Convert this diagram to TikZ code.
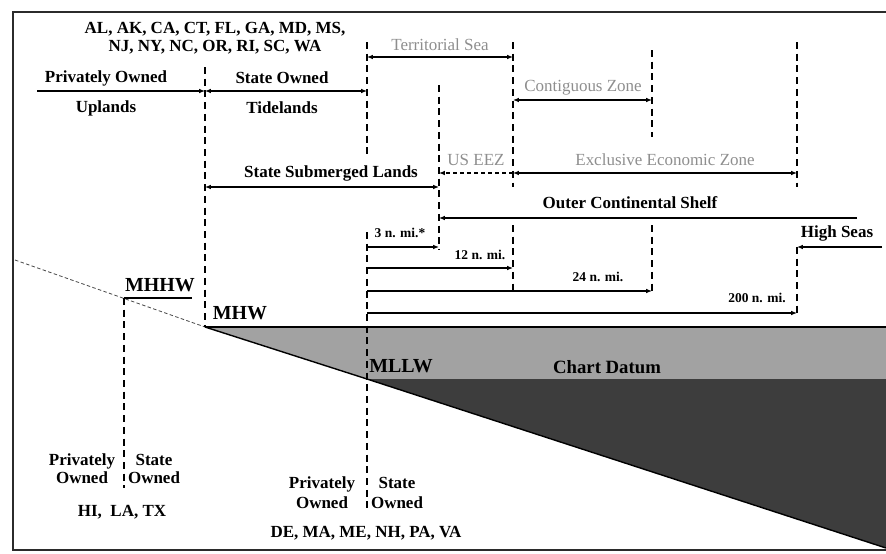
\documentclass[tikz,border=0pt]{standalone}
\usepackage{fontspec}
\setmainfont{Liberation Serif}
\usetikzlibrary{arrows.meta}
\definecolor{Faint}{HTML}{8E8E8E}
\definecolor{Datum}{HTML}{A2A2A2}
\definecolor{Deep}{HTML}{3D3D3D}
\definecolor{Frame}{HTML}{2B2B2B}

\begin{document}
\begin{tikzpicture}[
    x=0.03cm,y=-0.03cm,
    lbl/.style={font=\bfseries\fontsize{14.5}{15.5}\selectfont,inner sep=0pt,align=center},
    faint/.style={font=\fontsize{14.5}{15.5}\selectfont,text=Faint,inner sep=0pt},
    tiny/.style={font=\bfseries\fontsize{11.5}{12}\selectfont,inner sep=0pt},
    tide/.style={font=\bfseries\fontsize{17}{18}\selectfont,inner sep=0pt},
    bound/.style={line width=1.3pt,dash pattern=on 6pt off 4pt},
    dim/.style={{Latex[length=5pt,width=4pt]}-{Latex[length=5pt,width=4pt]},line width=1.3pt},
    reach/.style={-{Latex[length=5pt,width=4pt]},line width=1.3pt}
  ]
  \useasboundingbox (0,0) rectangle (886,554);

  % shore and water levels
  \coordinate (land) at (15,260);
  \coordinate (mhhw) at (124,298);
  \coordinate (mhw) at (205,327);
  \coordinate (mllw) at (367,379);
  \coordinate (datumR) at (886,327);
  \coordinate (mllwR) at (886,379);
  \coordinate (floorR) at (886,548);
  \fill[Datum] (mhw) -- (datumR) -- (mllwR) -- (mllw) -- cycle;
  \fill[Deep] (mllw) -- (mllwR) -- (floorR) -- cycle;
  \draw[black!70,line width=0.7pt,densely dashed] (land) -- (mhw);
  \draw[black,line width=1.2pt] (mhw) -- (mllw) -- (floorR);
  \draw[black,line width=1.2pt] (mhw) -- (datumR);

  % frame
  \draw[Frame,line width=2.5pt] (886,12) -- (13,12) -- (13,550) -- (886,550);

  % boundaries
  \draw[bound] (124,298) -- (124,488);
  \draw[bound] (205,67) -- (mhw);
  \draw[bound] (367,42) -- (367,157);
  \draw[bound] (367,232) -- (367,508);
  \draw[bound] (439,85) -- (439,250);
  \draw[bound] (513,42) -- (513,187);
  \draw[bound] (513,225) -- (513,290);
  \draw[bound] (652,50) -- (652,137);
  \draw[bound] (652,225) -- (652,291);
  \draw[bound] (797,42) -- (797,187);
  \draw[bound] (797,247) -- (797,313);
  \draw[black,line width=1pt] (mhhw) -- (192,298);

  % zones
  \coordinate (up-a) at (37,91);   \coordinate (up-b) at (205,91);
  \coordinate (tide-a) at (205,91); \coordinate (tide-b) at (367,91);
  \coordinate (ts-a) at (367,57);  \coordinate (ts-b) at (513,57);
  \coordinate (cz-a) at (513,100); \coordinate (cz-b) at (652,100);
  \coordinate (sl-a) at (205,187); \coordinate (sl-b) at (439,187);
  \coordinate (us-a) at (513,173); \coordinate (us-b) at (439,173);
  \coordinate (eez-a) at (513,173); \coordinate (eez-b) at (797,173);
  \coordinate (ocs-a) at (857,218); \coordinate (ocs-b) at (439,218);
  \coordinate (hs-a) at (882,247);  \coordinate (hs-b) at (797,247);
  \draw[reach] (up-a) -- (up-b);
  \draw[dim] (tide-a) -- (tide-b);
  \draw[dim] (ts-a) -- (ts-b);
  \draw[dim] (cz-a) -- (cz-b);
  \draw[dim] (sl-a) -- (sl-b);
  \draw[reach,dashed] (us-a) -- (us-b);
  \draw[dim] (eez-a) -- (eez-b);
  \draw[reach] (ocs-a) -- (ocs-b);
  \draw[reach] (hs-a) -- (hs-b);

  % distances from baseline
  \coordinate (n3-a) at (367,247);  \coordinate (n3-b) at (439,247);
  \coordinate (n12-a) at (367,268); \coordinate (n12-b) at (513,268);
  \coordinate (n24-a) at (367,291); \coordinate (n24-b) at (652,291);
  \coordinate (n200-a) at (367,313); \coordinate (n200-b) at (797,313);
  \draw[reach] (n3-a) -- (n3-b);
  \draw[reach] (n12-a) -- (n12-b);
  \draw[reach] (n24-a) -- (n24-b);
  \draw[reach] (n200-a) -- (n200-b);

  % labels
  \node[lbl] (states1) at (215,38)
    {AL, AK, CA, CT, FL, GA, MD, MS,\\NJ, NY, NC, OR, RI, SC, WA};
  \node[faint] (tsea) at (440,45) {Territorial Sea};
  \node[lbl] (priv) at (106,78) {Privately Owned};
  \node[lbl] (upl) at (106,108) {Uplands};
  \node[lbl] (stown) at (282,78) {State Owned};
  \node[lbl] (tidel) at (282,108) {Tidelands};
  \node[faint] (contig) at (583,88) {Contiguous Zone};
  \node[lbl] (sublands) at (331,173) {State Submerged Lands};
  \node[faint] (useez) at (476,160) {US EEZ};
  \node[faint] (eez) at (665,160) {Exclusive Economic Zone};
  \node[lbl] (ocs) at (630,203) {Outer Continental Shelf};
  \node[lbl] (hseas) at (837,233) {High Seas};
  \node[tiny] (d3) at (400,233) {3 n. mi.*};
  \node[tiny] (d12) at (480,255) {12 n. mi.};
  \node[tiny] (d24) at (598,277) {24 n. mi.};
  \node[tiny] (d200) at (757,298) {200 n. mi.};
  \node[tide] (lmhhw) at (160,285) {MHHW};
  \node[tide] (lmhw) at (240,313) {MHW};
  \node[tide] (lmllw) at (401,366) {MLLW};
  \node[lbl,font=\bfseries\fontsize{16}{17}\selectfont] (datum) at (607,367) {Chart Datum};
  \node[lbl] (lpriv) at (82,469) {Privately\\Owned};
  \node[lbl] (lstate) at (154,469) {State\\Owned};
  \node[lbl] (states2) at (122,512) {HI,\ \ LA, TX};
  \node[lbl,font=\bfseries\fontsize{14.5}{17}\selectfont] (mpriv) at (322,493) {Privately\\Owned};
  \node[lbl,font=\bfseries\fontsize{14.5}{17}\selectfont] (mstate) at (397,493) {State\\Owned};
  \node[lbl] (states3) at (366,533) {DE, MA, ME, NH, PA, VA};
\end{tikzpicture}
\end{document}
